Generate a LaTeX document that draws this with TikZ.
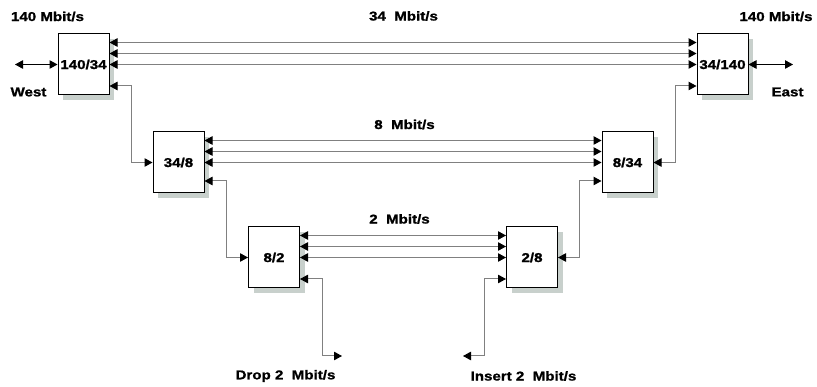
\documentclass[tikz,border=0pt]{standalone}
\usepackage{fontspec}
\setmainfont{Liberation Sans}[FakeStretch=1.18,FakeBold=1.2]
\usetikzlibrary{arrows.meta,calc,shadows}
\definecolor{shadowc}{RGB}{200,208,204}
\definecolor{linec}{RGB}{128,128,128}
\begin{document}
\begin{tikzpicture}[x=1pt,y=-1pt,
  mux/.style={draw=black, line width=1pt, fill=white, minimum width=51pt, minimum height=61pt,
    inner sep=0pt, font=\fontsize{12.8}{14}\selectfont\bfseries,
    general shadow={fill=shadowc, shadow xshift=5pt, shadow yshift=-5pt}},
  lbl/.style={font=\fontsize{12.8}{14}\selectfont\bfseries, inner sep=0pt},
  link/.style={draw=linec, line width=1pt, {Triangle[length=8pt,width=8.5pt,color=black]}-{Triangle[length=8pt,width=8.5pt,color=black]}},
]
\useasboundingbox (0,0) rectangle (817,387);

\node[mux] (A) at (83.5,64.5) {140/34};
\node[mux] (B) at (722.5,64.5) {34/140};
\node[mux] (C) at (178.5,162.5) {34/8};
\node[mux] (D) at (627.5,162.5) {8/34};
\node[mux] (E) at (274,257.5) {8/2};
\node[mux] (F) at (532,257.5) {2/8};

\foreach \d in {22,11,0} {
  \draw[link] ([yshift=\d pt]A.east) -- ([yshift=\d pt]B.west);
  \draw[link] ([yshift=\d pt]C.east) -- ([yshift=\d pt]D.west);
  \draw[link] ([yshift=\d pt]E.east) -- ([yshift=\d pt]F.west);
}

\draw[link] ([yshift=-21.5pt]A.east) -| ([xshift=-21pt]C.west) -- (C.west);
\draw[link] ([yshift=-21.5pt]B.west) -| ([xshift=22pt]D.east) -- (D.east);
\draw[link] ([yshift=-18.5pt]C.east) -| ([xshift=-22pt]E.west) -- (E.west);
\draw[link] ([yshift=-18.5pt]D.west) -| ([xshift=21pt]F.east) -- (F.east);

\coordinate (dropc) at (322,356);
\coordinate (drop) at (342,356);
\coordinate (insc) at (484,356);
\coordinate (ins) at (463,356);
\draw[link] ([yshift=-21.5pt]E.east) -| (dropc) -- (drop);
\draw[link] ([yshift=-21.5pt]F.west) -| (insc) -- (ins);

\coordinate (west) at (15,64.5);
\coordinate (east) at (793,64.5);
\draw[link, draw=black] (west) -- (A.west);
\draw[link, draw=black] (B.east) -- (east);

\node[lbl] (l140w) at (47.5,16.5) {140 Mbit/s};
\node[lbl] (l140e) at (776,16.5) {140 Mbit/s};
\node[lbl] (lwest) at (28.5,92) {West};
\node[lbl] (least) at (787.5,92) {East};
\node[lbl] (l34) at (403.5,16) {34\ \ Mbit/s};
\node[lbl] (l8) at (404.5,124.5) {8\ \ Mbit/s};
\node[lbl] (l2) at (399.5,219) {2\ \ Mbit/s};
\node[lbl] (ldrop) at (285.5,376) {Drop 2\ \ Mbit/s};
\node[lbl] (lins) at (523.5,376) {Insert 2\ \ Mbit/s};
\end{tikzpicture}
\end{document}
